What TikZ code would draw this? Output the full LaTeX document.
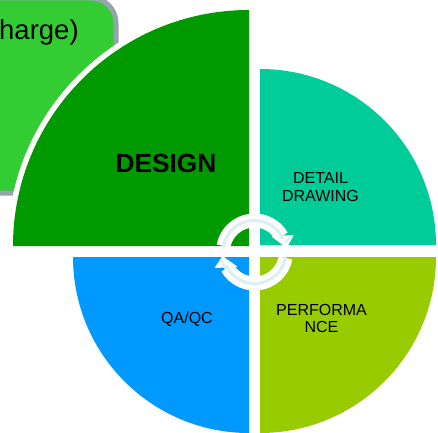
\documentclass[tikz,border=0pt]{standalone}
\usepackage{fontspec}
\setmainfont{Liberation Sans}
\definecolor{dgreen}{HTML}{009900}
\definecolor{lgreen}{HTML}{33CC33}
\definecolor{teal1}{HTML}{00CC99}
\definecolor{lime1}{HTML}{99CC00}
\definecolor{blue1}{HTML}{0099FF}
\definecolor{edge1}{HTML}{94A4AC}
\definecolor{ring1}{HTML}{DDEFF2}
\tikzset{lab/.style={inner sep=0pt,align=center,font=\fontsize{16}{17.5}\selectfont,text=black},
 ringw/.style={draw=white,line width=14pt,line cap=butt},
 ringc/.style={draw=ring1,line width=3.2pt,line cap=round}}
\begin{document}
\begin{tikzpicture}[x=1pt,y=1pt]
\useasboundingbox (0,0) rectangle (438,432);
\fill[white] (0,0) rectangle (438,432);
\begin{scope}
\clip (0,0) rectangle (438,432);
% back box
\draw[draw=edge1,line width=5pt,fill=lgreen,rounded corners=25pt] (-60,239) rectangle (116,434);
\node[inner sep=0pt,anchor=base west,font=\fontsize{27.5}{30}\selectfont,text=black] (back) at (-1,392) {harge)};
% quadrants
\draw[white,line width=11pt] (249,186) -- (13,186) arc[start angle=180,end angle=90,radius=236pt] -- cycle;
\fill[dgreen] (249,186) -- (13,186) arc[start angle=180,end angle=90,radius=236pt] -- cycle;
\fill[white] (249,186) rectangle (438,175);
\fill[teal1] (260,187) -- (436,187) arc[start angle=0,end angle=90,radius=176pt] -- cycle;
\fill[lime1] (260,175) -- (436,175) arc[start angle=0,end angle=-90,radius=176pt] -- cycle;
\fill[blue1] (249,175) -- (73,175) arc[start angle=180,end angle=270,radius=176pt] -- cycle;
\end{scope}
\node[inner sep=0pt,font=\bfseries\fontsize{26.3}{28}\selectfont,text=black] (design) at (166,269) {DESIGN};
\node[lab] (detail) at (320.5,245) {DETAIL\\DRAWING};
\node[lab] (qa) at (187,112.5) {QA/QC};
\node[lab] (perf) at (321.5,113.5) {PERFORMA\\NCE};
% circular arrows
\draw[ringw] (223.5,186) arc[start angle=169,end angle=30,radius=31.5pt];
\draw[ringw] (285.5,174) arc[start angle=-11,end angle=-150,radius=31.5pt];
\fill[white,rounded corners=1pt] (294,197) -- (286.5,184) -- (271,196) -- cycle;
\fill[white,rounded corners=1pt] (214.5,164) -- (222.5,176) -- (238,165) -- cycle;
\draw[ringc] (223.5,186) arc[start angle=169,end angle=26,radius=31.5pt];
\draw[ringc] (285.5,174) arc[start angle=-11,end angle=-154,radius=31.5pt];
\draw[ring1,line width=2.4pt,line cap=round] (291,195) -- (285.5,190);
\draw[ring1,line width=2.4pt,line cap=round] (222,171) -- (225,164);
\end{tikzpicture}
\end{document}
